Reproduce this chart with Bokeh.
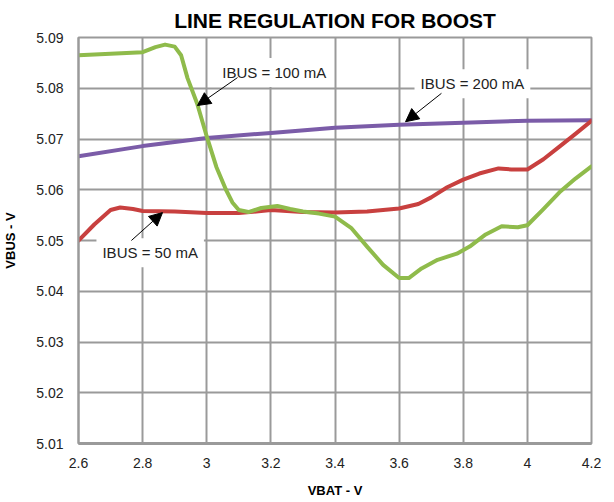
from bokeh.plotting import figure
from bokeh.models import Range1d, FixedTicker, Label, Arrow, NormalHead
from bokeh.embed import file_html
from bokeh.resources import INLINE

# ---- data ----
vbat_100 = [2.60, 2.70, 2.80, 2.84, 2.87, 2.90, 2.92, 2.94, 2.97, 3.00, 3.03, 3.06, 3.08,
            3.10, 3.13, 3.17, 3.22, 3.26, 3.30, 3.35, 3.40, 3.45, 3.50, 3.55, 3.60, 3.63,
            3.67, 3.72, 3.78, 3.82, 3.87, 3.92, 3.97, 4.00, 4.05, 4.10, 4.15, 4.20]
vbus_100 = [5.0865, 5.0868, 5.0871, 5.0881, 5.0886, 5.0882, 5.0865, 5.0820, 5.0770, 5.0705,
            5.0645, 5.0600, 5.0575, 5.0560, 5.0556, 5.0564, 5.0568, 5.0562, 5.0557, 5.0553,
            5.0547, 5.0525, 5.0488, 5.0452, 5.0426, 5.0426, 5.0445, 5.0462, 5.0474, 5.0488,
            5.0512, 5.0528, 5.0526, 5.0530, 5.0562, 5.0595, 5.0622, 5.0646]

vbat_50 = [2.60, 2.65, 2.70, 2.73, 2.77, 2.80, 2.90, 3.00, 3.10, 3.20, 3.30, 3.40, 3.50,
           3.60, 3.66, 3.70, 3.75, 3.80, 3.85, 3.91, 3.95, 4.00, 4.05, 4.10, 4.15, 4.20]
vbus_50 = [5.0500, 5.0532, 5.0560, 5.0565, 5.0562, 5.0558, 5.0557, 5.0554, 5.0554, 5.0560,
           5.0556, 5.0555, 5.0557, 5.0563, 5.0572, 5.0585, 5.0605, 5.0620, 5.0632, 5.0642,
           5.0640, 5.0640, 5.0660, 5.0685, 5.0710, 5.0736]

vbat_200 = [2.6, 2.8, 3.0, 3.2, 3.4, 3.6, 3.8, 4.0, 4.2]
vbus_200 = [5.0666, 5.0686, 5.0702, 5.0712, 5.0722, 5.0728, 5.0732, 5.0736, 5.0737]

x_ticks = [2.6, 2.8, 3.0, 3.2, 3.4, 3.6, 3.8, 4.0, 4.2]
x_tick_labels = ["2.6", "2.8", "3", "3.2", "3.4", "3.6", "3.8", "4", "4.2"]
y_ticks = [5.01, 5.02, 5.03, 5.04, 5.05, 5.06, 5.07, 5.08, 5.09]
y_tick_labels = ["5.01", "5.02", "5.03", "5.04", "5.05", "5.06", "5.07", "5.08", "5.09"]

series_names = ["IBUS = 50 mA", "IBUS = 100 mA", "IBUS = 200 mA"]

FONT = "Liberation Sans"
GRID = "#9a9a9a"

p = figure(frame_width=513, frame_height=406, output_backend="svg", toolbar_location=None,
           x_range=Range1d(2.6, 4.2), y_range=Range1d(5.01, 5.09),
           min_border_left=71, min_border_right=14, min_border_top=31, min_border_bottom=52)

p.title.text = "LINE REGULATION FOR BOOST"
p.title.align = "center"
p.title.text_font = FONT
p.title.text_font_size = "21px"
p.title.text_font_style = "bold"
p.title.text_color = "black"
p.title.standoff = 12

p.outline_line_color = GRID
p.outline_line_width = 2
p.background_fill_color = "white"
p.border_fill_color = "white"

p.xaxis.ticker = FixedTicker(ticks=x_ticks)
p.yaxis.ticker = FixedTicker(ticks=y_ticks)
p.xaxis.major_label_overrides = dict(zip(x_ticks, x_tick_labels))
p.yaxis.major_label_overrides = dict(zip(y_ticks, y_tick_labels))

for ax in (p.xaxis, p.yaxis):
    ax.major_tick_line_color = None
    ax.minor_tick_line_color = None
    ax.major_label_text_font = FONT
    ax.major_label_text_font_size = "14px"
    ax.major_label_text_color = "#222222"
    ax.axis_label_text_font = FONT
    ax.axis_label_text_font_size = "13px"
    ax.axis_label_text_font_style = "bold"
    ax.axis_label_text_color = "black"
    ax.axis_line_color = GRID

p.xaxis.axis_label = "VBAT - V"
p.yaxis.axis_label = "VBUS - V"
p.xaxis.axis_line_width = 3
p.yaxis.axis_line_width = 2
p.xaxis.major_label_standoff = 8
p.xaxis.axis_label_standoff = 12
p.yaxis.major_label_standoff = 9
p.yaxis.axis_label_standoff = 15

p.xgrid.grid_line_color = GRID
p.ygrid.grid_line_color = GRID
p.xgrid.grid_line_width = 2
p.ygrid.grid_line_width = 2

p.line(vbat_200, vbus_200, line_color="#7b5ca8", line_width=4, line_join="round", line_cap="round")
p.line(vbat_50, vbus_50, line_color="#c8403f", line_width=4, line_join="round", line_cap="round")
p.line(vbat_100, vbus_100, line_color="#8fbb4b", line_width=4, line_join="round", line_cap="round")

# annotations: label anchor (left, middle) and arrow start/end in data units
label_pos = {"IBUS = 100 mA": (3.030, 5.0831), "IBUS = 200 mA": (3.648, 5.0809), "IBUS = 50 mA": (2.656, 5.0476)}
arrow_pos = {"IBUS = 100 mA": (3.096, 5.0821, 2.971, 5.0766),
             "IBUS = 200 mA": (3.732, 5.0790, 3.620, 5.0734),
             "IBUS = 50 mA": (2.765, 5.0500, 2.862, 5.0555)}

for name in series_names:
    lx, ly = label_pos[name]
    p.add_layout(Label(x=lx, y=ly, text=name, text_font=FONT, text_font_size="15px",
                       text_color="#222222", text_baseline="middle", text_align="left",
                       background_fill_color="white", padding=6))
for name in series_names:
    x0, y0, x1, y1 = arrow_pos[name]
    p.add_layout(Arrow(end=NormalHead(size=13, fill_color="black", line_color="black"),
                       x_start=x0, y_start=y0, x_end=x1, y_end=y1,
                       line_color="black", line_width=1))

open("out.html", "w").write(file_html(p, INLINE))
